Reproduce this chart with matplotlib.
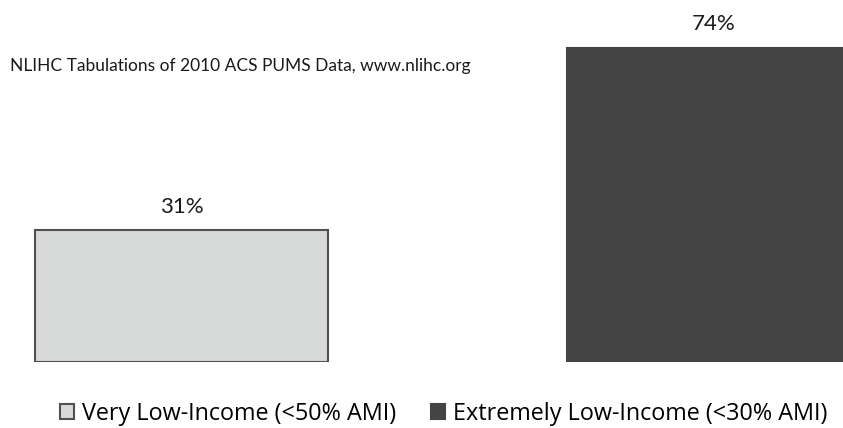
import matplotlib
matplotlib.use("Agg")
import matplotlib.pyplot as plt
from matplotlib.patches import Patch

# data
categories = ["Very Low-Income (<50% AMI)", "Extremely Low-Income (<30% AMI)"]
values = [31, 74]
labels = ["31%", "74%"]
colors = ["#d7d8d8", "#444444"]
edges = ["#505050", "#444444"]
source = "NLIHC Tabulations of 2010 ACS PUMS Data, www.nlihc.org"

fig = plt.figure(figsize=(8.43, 4.28), dpi=100)
ax = fig.add_axes([0, 66 / 428, 1, 362 / 428])

x = [0, 1]
bars = ax.bar(x, values, width=0.5508, color=colors, edgecolor=edges, linewidth=1.5)
ax.set_xlim(-0.3412, 1.2434)
ax.set_ylim(0, 85.3)
ax.axis("off")

for xi, v, lab in zip(x, values, labels):
    ax.annotate(lab, (xi, v), xytext=(0, 17), textcoords="offset points",
                ha="center", va="center", fontsize=16, family="Lato", color="#1a1a1a")

fig.text(10 / 843, 1 - 66 / 428, source, ha="left", va="center",
         fontsize=12.5, family="Lato", color="#1a1a1a")

handles = [Patch(facecolor=c, edgecolor=e, linewidth=1.5) for c, e in zip(colors, edges)]
fig.legend(handles, categories, loc="center left", bbox_to_anchor=(60 / 843, 1 - 414 / 428),
           ncol=2, frameon=False, borderpad=0, borderaxespad=0,
           handlelength=0.6, handleheight=0.6, handletextpad=0.33, columnspacing=1.5,
           prop={"family": "Open Sans", "size": 16.8})

fig.savefig("out.png", dpi=100)
